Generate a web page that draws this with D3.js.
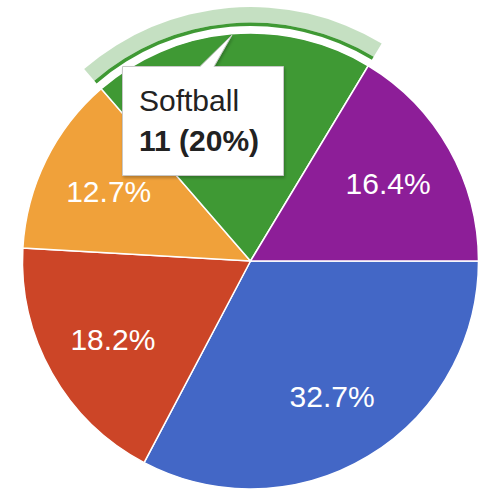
<!DOCTYPE html>
<html>
<head>
<meta charset="utf-8">
<script src="https://cdn.jsdelivr.net/npm/d3@7"></script>
<style>
  html, body { margin: 0; padding: 0; background: #fff; }
  svg { display: block; font-family: "Liberation Sans", Arial, sans-serif; }
</style>
</head>
<body>
<div id="chart"></div>
<script>
// data (order as drawn, clockwise from 3 o'clock)
const categories = ["Slice 1", "Slice 2", "Slice 3", "Softball", "Slice 5"];
const counts = [18, 10, 7, 11, 9];
const colors = ["#4367c6", "#cc4527", "#f0a13a", "#3f9934", "#8d1e98"];
const hovered = "Softball";

const width = 479, height = 492;
const cx = 250.5, cy = 261, radius = 228;

const svg = d3.select("#chart")
  .append("svg")
    .attr("width", width)
    .attr("height", height);

const defs = svg.append("defs");
const shadow = defs.append("filter").attr("id", "shadow")
  .attr("x", "-10%").attr("y", "-10%").attr("width", "130%").attr("height", "130%");
shadow.append("feDropShadow")
  .attr("dx", 1).attr("dy", 2).attr("stdDeviation", 1.5)
  .attr("flood-color", "#000").attr("flood-opacity", 0.25);

const g = svg.append("g").attr("transform", `translate(${cx},${cy})`);

const total = d3.sum(counts);
const data = categories.map((c, i) => ({name: c, value: counts[i], color: colors[i]}));

const pie = d3.pie()
  .sort(null)
  .value(d => d.value)
  .startAngle(Math.PI / 2)
  .endAngle(Math.PI / 2 + 2 * Math.PI);

const arcs = pie(data);
const arc = d3.arc().innerRadius(0).outerRadius(radius);
const labelArc = d3.arc().innerRadius(158).outerRadius(158);

// slices
g.selectAll(".slice")
  .data(arcs)
  .enter().append("path")
    .attr("class", "slice")
    .attr("d", arc)
    .attr("fill", d => d.data.color)
    .attr("stroke", "#fff")
    .attr("stroke-width", 1.5);

// hover ring round the highlighted slice
const hi = arcs.find(d => d.data.name === hovered);
g.append("path")
  .attr("d", d3.arc().innerRadius(238.5).outerRadius(254)(hi))
  .attr("fill", hi.data.color)
  .attr("fill-opacity", 0.3);
g.append("path")
  .attr("d", d3.arc().innerRadius(235).outerRadius(238.5)(hi))
  .attr("fill", hi.data.color);

// percentage labels (the hovered slice's label sits under the tooltip)
g.selectAll(".label")
  .data(arcs.filter(d => d.data.name !== hovered))
  .enter().append("text")
    .attr("class", "label")
    .attr("transform", d => `translate(${labelArc.centroid(d)})`)
    .attr("text-anchor", "middle")
    .attr("dy", "0.36em")
    .attr("fill", "#fff")
    .style("font-size", "30px")
    .text(d => (d.value / total * 100).toFixed(1) + "%");

// tooltip
const tip = svg.append("g");
const bx = 122.5, by = 66.5, bw = 161, bh = 109;
tip.append("path")
  .attr("d", `M${bx},${by} H200 L232,35 L214,${by} H${bx + bw} V${by + bh} H${bx} Z`)
  .attr("fill", "#fff")
  .attr("stroke", "#c8c8c8")
  .attr("stroke-width", 1)
  .attr("filter", "url(#shadow)");

tip.append("text")
  .attr("x", 139)
  .attr("y", 111)
  .attr("fill", "#222")
  .style("font-size", "30px")
  .text(hi.data.name);

tip.append("text")
  .attr("x", 139)
  .attr("y", 151)
  .attr("fill", "#222")
  .style("font-size", "30px")
  .style("font-weight", "bold")
  .text(`${hi.data.value} (${Math.round(hi.data.value / total * 100)}%)`);
</script>
</body>
</html>
